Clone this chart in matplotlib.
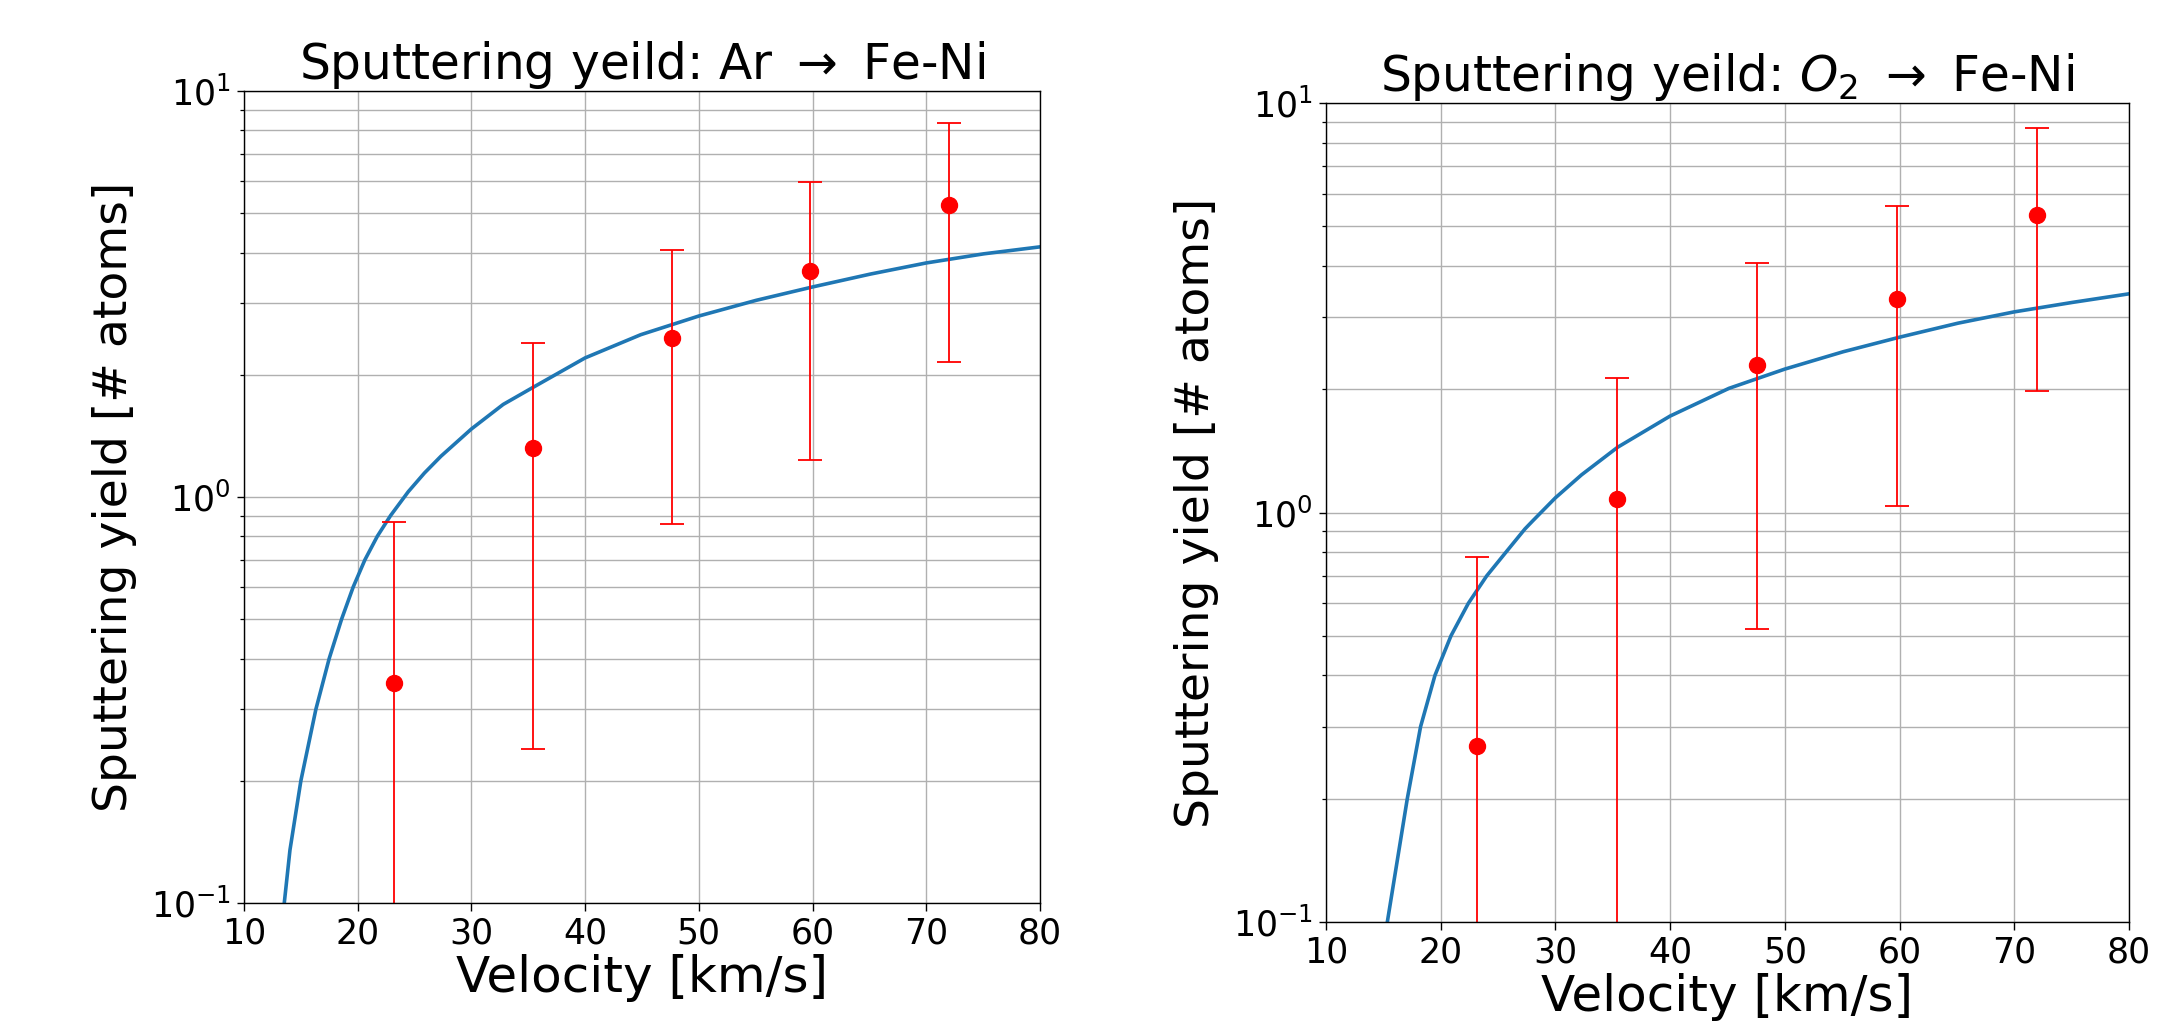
import matplotlib
matplotlib.use('Agg')
import matplotlib.pyplot as plt

# measured points (same velocities for both targets)
velocity = [23.2, 35.4, 47.6, 59.8, 72.0]

ar_yield = [0.348, 1.32, 2.46, 3.60, 5.25]
ar_err = [0.52, 1.08, 1.60, 2.37, 3.10]

o2_yield = [0.269, 1.078, 2.29, 3.32, 5.34]
o2_err = [0.509, 1.05, 1.77, 2.28, 3.36]

# model curves
ar_model_v = [13.55, 14.05, 15.01, 16.33, 17.50, 18.59, 19.61, 20.64, 21.73, 22.90,
              24.45, 25.87, 27.33, 30.0, 32.8, 35.4, 40.0, 44.9, 50.0, 55.05,
              60.0, 65.1, 70.0, 75.06, 80.0]
ar_model_y = [0.1, 0.135, 0.2, 0.3, 0.4, 0.5, 0.6, 0.7, 0.8, 0.9,
              1.03, 1.145, 1.26, 1.47, 1.69, 1.86, 2.2, 2.51, 2.79, 3.05,
              3.29, 3.54, 3.77, 3.97, 4.13]

o2_model_v = [15.35, 17.09, 18.25, 19.50, 20.90, 22.41, 24.01, 25.69, 27.35, 28.07,
              30.0, 32.28, 35.42, 40.0, 45.13, 50.0, 55.1, 60.0, 65.1, 70.0,
              75.1, 80.0]
o2_model_y = [0.1, 0.2, 0.3, 0.4, 0.5, 0.6, 0.7, 0.8, 0.912, 0.957,
              1.086, 1.236, 1.443, 1.72, 2.01, 2.24, 2.47, 2.68, 2.90, 3.09,
              3.26, 3.42]

titles = ['Sputtering yeild: Ar $\\rightarrow$ Fe-Ni',
          'Sputtering yeild: $O_2$ $\\rightarrow$ Fe-Ni']


def draw_panel(ax, model_v, model_y, meas_y, meas_err, title):
    ax.set_yscale('log')
    ax.plot(model_v, model_y, color='#1f77b4', lw=2.6)
    ax.errorbar(velocity, meas_y, yerr=meas_err, fmt='o', color='red',
                markersize=11.5, elinewidth=1.3, capsize=8.4, capthick=1.3)
    ax.set_xlim(10, 80)
    ax.set_ylim(0.1, 10)
    ax.grid(True, which='both', color='#b0b0b0', lw=1.0)
    ax.set_title(title, fontsize=35, pad=6)
    ax.set_xlabel('Velocity [km/s]', fontsize=36, labelpad=3)
    ax.set_ylabel('Sputtering yield [# atoms]', fontsize=34, labelpad=10)
    ax.tick_params(which='major', labelsize=25, length=5.4, width=1.0, pad=4)
    ax.tick_params(which='minor', length=3.1, width=0.9)
    for s in ax.spines.values():
        s.set_linewidth(1.0)


fig = plt.figure(figsize=(21.68, 10.24), dpi=100)
ax1 = fig.add_axes([0.1125, 0.1182, 0.3672, 0.7930])
ax2 = fig.add_axes([0.6116, 0.0996, 0.3704, 0.7998])

draw_panel(ax1, ar_model_v, ar_model_y, ar_yield, ar_err, titles[0])
draw_panel(ax2, o2_model_v, o2_model_y, o2_yield, o2_err, titles[1])

fig.savefig('out.png', dpi=100)
